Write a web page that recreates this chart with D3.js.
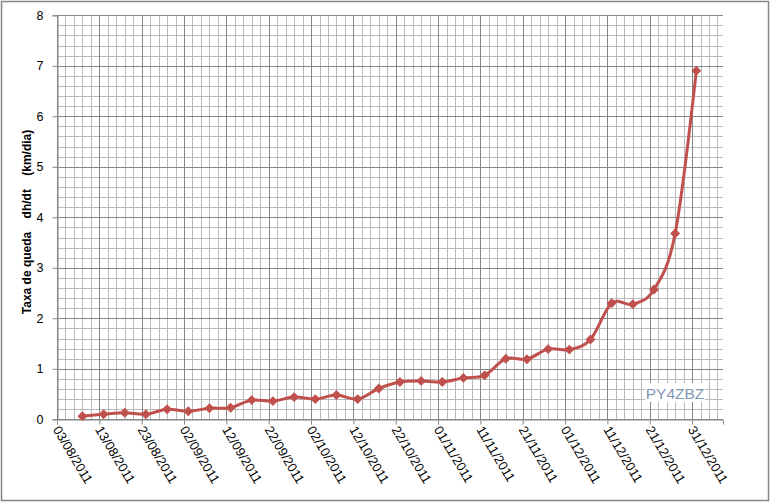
<!DOCTYPE html>
<html><head><meta charset="utf-8">
<script src="https://cdn.jsdelivr.net/npm/d3@7"></script>
<style>body{margin:0;background:#fff}svg{display:block}</style>
</head><body>
<script>
// Data
const startDate = "2011-08-03";
const tickLabels = ["03/08/2011","13/08/2011","23/08/2011","02/09/2011","12/09/2011","22/09/2011","02/10/2011","12/10/2011","22/10/2011","01/11/2011","11/11/2011","21/11/2011","01/12/2011","11/12/2011","21/12/2011","31/12/2011"];
const dates = ["2011-08-09","2011-08-14","2011-08-19","2011-08-24","2011-08-29","2011-09-03","2011-09-08","2011-09-13","2011-09-18","2011-09-23","2011-09-28","2011-10-03","2011-10-08","2011-10-13","2011-10-18","2011-10-23","2011-10-28","2011-11-02","2011-11-07","2011-11-12","2011-11-17","2011-11-22","2011-11-27","2011-12-02","2011-12-07","2011-12-12","2011-12-17","2011-12-22","2011-12-27","2012-01-01"];
const values = [0.06,0.10,0.13,0.10,0.20,0.16,0.22,0.23,0.38,0.36,0.44,0.40,0.48,0.40,0.61,0.74,0.76,0.74,0.82,0.87,1.20,1.19,1.39,1.38,1.58,2.30,2.28,2.57,3.68,6.90];
const yTicks = [0,1,2,3,4,5,6,7,8];
const yTitle = "Taxa de queda    dh/dt    (km/dia)";
const watermark = "PY4ZBZ";

const W = 771, H = 503;
const svg = d3.select("body").append("svg").attr("width", W).attr("height", H);
svg.append("rect").attr("x",1.5).attr("y",1.5).attr("width",W-4).attr("height",H-4)
  .attr("fill","#fff").attr("stroke","#868686").attr("stroke-width",1.5);

const parse = d3.utcParse("%Y-%m-%d");
const t0 = parse(startDate);
const dayMs = 86400000;
const x = d3.scaleUtc().domain([t0, new Date(+t0 + 157.3*dayMs)]).range([57, 723]);
const y = d3.scaleLinear().domain([0, 8]).range([419.3, 15.3]);

const g = svg.append("g");
// minor grid
const minorX = d3.range(0, 157.3, 2).map(d => new Date(+t0 + d*dayMs));
const minorY = d3.range(0, 8.01, 0.2);
g.selectAll(".mx").data(minorX).join("line")
  .attr("x1", d => Math.round(x(d))+0.5).attr("x2", d => Math.round(x(d))+0.5)
  .attr("y1", y(8)).attr("y2", y(0)).attr("stroke", "#b9b9b9").attr("stroke-width",1);
g.selectAll(".my").data(minorY).join("line")
  .attr("y1", d => Math.round(y(d))+0.5).attr("y2", d => Math.round(y(d))+0.5)
  .attr("x1", 57).attr("x2", 723).attr("stroke", "#b9b9b9").attr("stroke-width",1);
// major grid
const majorX = d3.range(0, 151, 10).map(d => new Date(+t0 + d*dayMs));
g.selectAll(".Mx").data(majorX).join("line")
  .attr("x1", d => Math.round(x(d))+0.5).attr("x2", d => Math.round(x(d))+0.5)
  .attr("y1", y(8)).attr("y2", y(0)).attr("stroke", "#868686").attr("stroke-width",1);
g.selectAll(".My").data(yTicks).join("line")
  .attr("y1", d => Math.round(y(d))+0.5).attr("y2", d => Math.round(y(d))+0.5)
  .attr("x1", 57).attr("x2", 723).attr("stroke", "#868686").attr("stroke-width",1);

// y axis
const yAxis = d3.axisLeft(y).tickValues(yTicks).tickSize(5).tickPadding(9).tickFormat(d3.format("d"));
const ya = svg.append("g").attr("transform","translate(57.5,0)").call(yAxis);
ya.select(".domain").attr("stroke","#868686");
ya.selectAll(".tick line").attr("stroke","#868686");
ya.selectAll("text").attr("font-family","Liberation Sans, Arial, sans-serif").attr("font-size",12.5).attr("fill","#000");

// x axis
const xAxis = d3.axisBottom(x).tickValues(majorX).tickSize(5).tickFormat((d,i) => tickLabels[i]);
const xa = svg.append("g").attr("transform","translate(0,419.5)").call(xAxis);
xa.select(".domain").attr("stroke","#868686");
xa.selectAll(".tick line").attr("stroke","#868686");
xa.selectAll("text")
  .attr("font-family","Liberation Sans, Arial, sans-serif").attr("font-size",13).attr("fill","#000")
  .attr("text-anchor","start").attr("dy",0).attr("y",0)
  .attr("transform","translate(-5,10) rotate(59)");

// y title
svg.append("text").attr("transform","translate(31,222) rotate(-90)")
  .attr("text-anchor","middle").attr("font-family","Liberation Sans, Arial, sans-serif")
  .attr("font-size",12).attr("font-weight","bold").attr("fill","#000")
  .style("white-space","pre").text(yTitle);

// line
const pts = dates.map((d,i) => ({d: parse(d), v: values[i]}));
const line = d3.line().x(p => x(p.d)).y(p => y(p.v)).curve(d3.curveCardinal.tension(0));
svg.append("path").datum(pts).attr("d", line).attr("fill","none")
  .attr("stroke","#c0504d").attr("stroke-width",3).attr("stroke-linejoin","round");
svg.selectAll(".mk").data(pts).join("path")
  .attr("transform", p => `translate(${x(p.d)},${y(p.v)}) rotate(45)`)
  .attr("d", d3.symbol(d3.symbolSquare, 36)())
  .attr("fill","#c0504d").attr("stroke","#c0504d").attr("stroke-width",1);

// watermark
svg.append("rect").attr("x",645).attr("y",383).attr("width",60).attr("height",19).attr("fill","#fff");
svg.append("text").attr("x",675).attr("y",399).attr("text-anchor","middle")
  .attr("font-family","Liberation Sans, Arial, sans-serif").attr("font-size",15.5).attr("fill","#8095b3")
  .text(watermark);
</script>
</body></html>
